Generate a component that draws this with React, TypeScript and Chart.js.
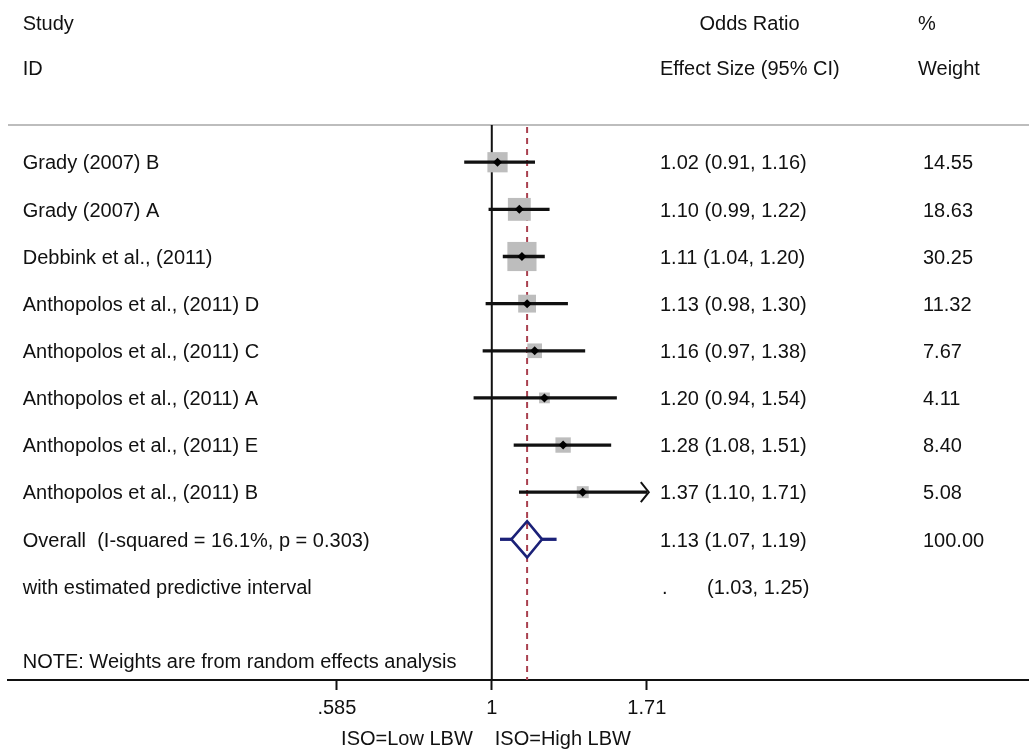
import React, { useEffect, useRef } from "react";
import { Chart, registerables } from "chart.js";

Chart.register(...registerables);

// ---------- data ----------
const studyLabels = [
  "Grady (2007) B",
  "Grady (2007) A",
  "Debbink et al., (2011)",
  "Anthopolos et al., (2011) D",
  "Anthopolos et al., (2011) C",
  "Anthopolos et al., (2011) A",
  "Anthopolos et al., (2011) E",
  "Anthopolos et al., (2011) B",
];
const effectSizes = [1.02, 1.1, 1.11, 1.13, 1.16, 1.2, 1.28, 1.37];
const lowerCI = [0.91, 0.99, 1.04, 0.98, 0.97, 0.94, 1.08, 1.1];
const upperCI = [1.16, 1.22, 1.2, 1.3, 1.38, 1.54, 1.51, 1.71];
const weights = [14.55, 18.63, 30.25, 11.32, 7.67, 4.11, 8.4, 5.08];

const overallLabel = "Overall  (I-squared = 16.1%, p = 0.303)";
const overallEffect = 1.13;
const overallLower = 1.07;
const overallUpper = 1.19;
const overallWeight = 100.0;

const predictiveLabel = "with estimated predictive interval";
const predictiveLower = 1.03;
const predictiveUpper = 1.25;

const noteText = "NOTE: Weights are from random effects analysis";

const xTickValues = [0.585, 1, 1.71];
const xTickLabels = [".585", "1", "1.71"];
const favourLeft = "ISO=Low LBW";
const favourRight = "ISO=High LBW";

// ---------- style / layout ----------
const FONT = '20px "Liberation Sans", Arial, Helvetica, sans-serif';
const TEXT = "#111";
const NAVY = "#1b2178";
const DASH_RED = "#a9404f";
const GRAY_BOX = "#bdbdbd";
const X_MIN = 0.1874;
const X_MAX = 6.42;
const Y_MIN = -0.79;
const Y_MAX = 10.985;
const OVERALL_ROW = studyLabels.length;
const PRED_ROW = studyLabels.length + 1;
const NOTE_ROW = 10.58;
const DIAMOND_HALF = 0.385;
const COL_LABEL = 22.7;
const COL_ES = 660;
const COL_ES_CENTER = 749.5;
const COL_W = 923;

const fmt2 = (v: number) => v.toFixed(2);

const forestPlugin = {
  id: "forestText",
  beforeDatasetsDraw(chart: any) {
    const { ctx, chartArea, scales } = chart;
    const x = scales.x;
    ctx.save();
    // top separator
    ctx.strokeStyle = "#bdbdbd";
    ctx.lineWidth = 2;
    ctx.beginPath();
    ctx.moveTo(chartArea.left, chartArea.top);
    ctx.lineTo(chartArea.right, chartArea.top);
    ctx.stroke();
    // null line
    const x1 = x.getPixelForValue(1);
    ctx.strokeStyle = "#111";
    ctx.lineWidth = 2;
    ctx.beginPath();
    ctx.moveTo(x1, chartArea.top);
    ctx.lineTo(x1, chartArea.bottom);
    ctx.stroke();
    // overall effect dashed line
    const xo = x.getPixelForValue(overallEffect);
    ctx.strokeStyle = DASH_RED;
    ctx.lineWidth = 2;
    ctx.setLineDash([6, 5]);
    ctx.beginPath();
    ctx.moveTo(xo, chartArea.top + 2);
    ctx.lineTo(xo, chartArea.bottom);
    ctx.stroke();
    ctx.restore();
  },
  afterDatasetsDraw(chart: any) {
    const { ctx, scales } = chart;
    const x = scales.x;
    const y = scales.y;
    const xMaxTick = xTickValues[xTickValues.length - 1];
    ctx.save();
    // arrows for CIs reaching beyond the axis
    ctx.strokeStyle = "#111";
    ctx.lineWidth = 2;
    upperCI.forEach((u, i) => {
      if (u >= xMaxTick) {
        const px = x.getPixelForValue(xMaxTick) + 2;
        const py = y.getPixelForValue(i);
        ctx.beginPath();
        ctx.moveTo(px - 8, py - 10);
        ctx.lineTo(px, py);
        ctx.lineTo(px - 8, py + 10);
        ctx.stroke();
      }
    });

    ctx.fillStyle = TEXT;
    ctx.font = FONT;
    ctx.textBaseline = "alphabetic";
    const cap = 7.2;
    // headers
    ctx.textAlign = "left";
    ctx.fillText("Study", COL_LABEL, 29.5);
    ctx.fillText("ID", COL_LABEL, 75);
    ctx.fillText("Effect Size (95% CI)", COL_ES, 75);
    ctx.fillText("%", COL_W - 5, 29.5);
    ctx.fillText("Weight", COL_W - 5, 75);
    ctx.textAlign = "center";
    ctx.fillText("Odds Ratio", COL_ES_CENTER, 29.5);
    ctx.textAlign = "left";

    studyLabels.forEach((lab, i) => {
      const py = y.getPixelForValue(i) + cap;
      ctx.fillText(lab, COL_LABEL, py);
      ctx.fillText(
        `${fmt2(effectSizes[i])} (${fmt2(lowerCI[i])}, ${fmt2(upperCI[i])})`,
        COL_ES,
        py
      );
      ctx.fillText(fmt2(weights[i]), COL_W, py);
    });
    let py = y.getPixelForValue(OVERALL_ROW) + cap;
    ctx.fillText(overallLabel, COL_LABEL, py);
    ctx.fillText(
      `${fmt2(overallEffect)} (${fmt2(overallLower)}, ${fmt2(overallUpper)})`,
      COL_ES,
      py
    );
    ctx.fillText(fmt2(overallWeight), COL_W, py);
    py = y.getPixelForValue(PRED_ROW) + cap;
    ctx.fillText(predictiveLabel, COL_LABEL, py);
    ctx.fillText(".", COL_ES + 2, py);
    ctx.fillText(`(${fmt2(predictiveLower)}, ${fmt2(predictiveUpper)})`, COL_ES + 47, py);
    ctx.fillText(noteText, COL_LABEL, y.getPixelForValue(NOTE_ROW) + cap);

    // favours labels
    const x1 = x.getPixelForValue(1);
    ctx.textAlign = "right";
    ctx.fillText(favourLeft, x1 - 19, 745);
    ctx.textAlign = "left";
    ctx.fillText(favourRight, x1 + 3, 745);
    ctx.restore();
  },
};

export default function App() {
  const ref = useRef<HTMLCanvasElement | null>(null);

  useEffect(() => {
    if (!ref.current) return;
    const boxSide = (w: number) => 5.3 * Math.sqrt(w);
    const chart = new Chart(ref.current, {
      type: "scatter",
      data: {
        datasets: [
          {
            type: "scatter",
            label: "weight boxes",
            data: effectSizes.map((e, i) => ({ x: e, y: i })),
            pointStyle: "rect",
            pointRadius: weights.map((w) => boxSide(w) / (2 * Math.SQRT1_2)),
            backgroundColor: GRAY_BOX,
            borderWidth: 0,
            order: 3,
          } as any,
          {
            type: "bar",
            label: "95% CI",
            indexAxis: "y",
            data: effectSizes.map((_, i) => ({ x: [lowerCI[i], Math.min(upperCI[i], xTickValues[2])], y: i })),
            backgroundColor: "#111",
            barThickness: 2.6,
            grouped: false,
            borderWidth: 0,
            order: 2,
          } as any,
          {
            type: "bar",
            label: "predictive interval",
            indexAxis: "y",
            data: [
              { x: [predictiveLower, overallLower], y: OVERALL_ROW },
              { x: [overallUpper, predictiveUpper], y: OVERALL_ROW },
            ],
            backgroundColor: NAVY,
            barThickness: 2.6,
            grouped: false,
            borderWidth: 0,
            order: 2,
          } as any,
          {
            type: "line",
            label: "overall",
            data: [
              { x: overallLower, y: OVERALL_ROW },
              { x: overallEffect, y: OVERALL_ROW - DIAMOND_HALF },
              { x: overallUpper, y: OVERALL_ROW },
              { x: overallEffect, y: OVERALL_ROW + DIAMOND_HALF },
              { x: overallLower, y: OVERALL_ROW },
            ],
            borderColor: NAVY,
            borderWidth: 2.6,
            borderJoinStyle: "miter",
            pointRadius: 0,
            fill: false,
            tension: 0,
            order: 1,
          } as any,
          {
            type: "scatter",
            label: "point estimates",
            data: effectSizes.map((e, i) => ({ x: e, y: i })),
            pointStyle: "rectRot",
            pointRadius: 4.5,
            backgroundColor: "#000",
            borderWidth: 0,
            order: 0,
          } as any,
        ],
      },
      options: {
        animation: false,
        responsive: false,
        events: [],
        layout: { autoPadding: false, padding: { top: 125, left: 8, right: 0, bottom: 0 } },
        plugins: { legend: { display: false }, tooltip: { enabled: false } },
        scales: {
          x: {
            type: "logarithmic",
            min: X_MIN,
            max: X_MAX,
            offset: false,
            beginAtZero: false,
            afterBuildTicks: (scale: any) => {
              scale.ticks = xTickValues.map((v) => ({ value: v }));
            },
            afterFit: (scale: any) => {
              scale.height = 70;
            },
            ticks: {
              autoSkip: false,
              maxRotation: 0,
              padding: 6,
              color: TEXT,
              font: { family: '"Liberation Sans", Arial, sans-serif', size: 20 },
              callback: (_v: any, i: number) => xTickLabels[i],
            },
            grid: {
              offset: false,
              drawOnChartArea: false,
              drawTicks: true,
              tickLength: 10,
              tickWidth: 2,
              tickColor: "#111",
            },
            border: { display: true, color: "#111", width: 2 },
          },
          y: {
            type: "linear",
            reverse: true,
            min: Y_MIN,
            max: Y_MAX,
            offset: false,
            grid: { offset: false },
            display: false,
          },
        },
      } as any,
      plugins: [forestPlugin],
    });
    return () => chart.destroy();
  }, []);

  return (
    <div style={{ position: "fixed", left: 0, top: 0, width: 1029, height: 750, background: "#fff" }}>
      <canvas ref={ref} width={1029} height={750} style={{ display: "block" }} />
    </div>
  );
}
